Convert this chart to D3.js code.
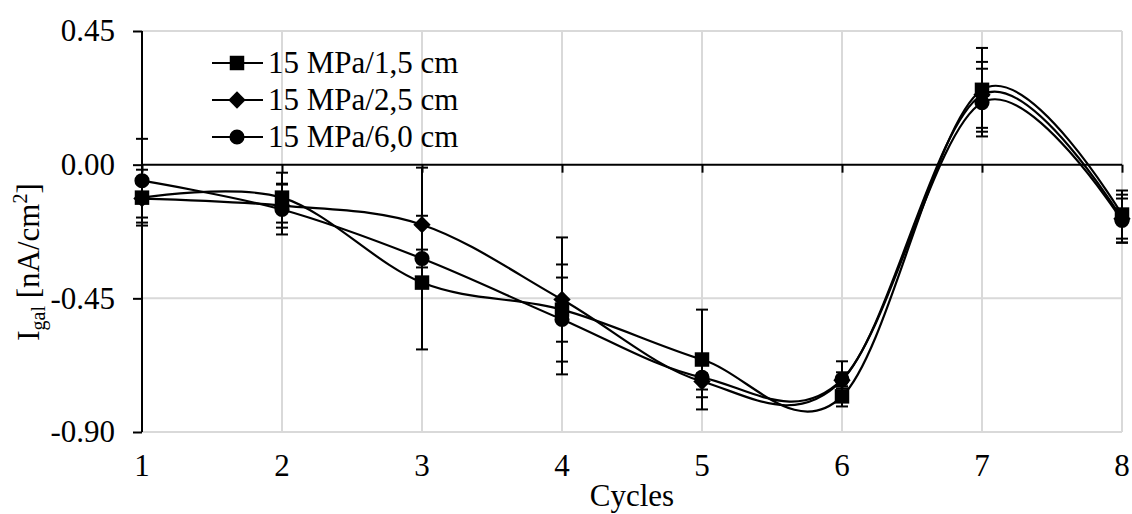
<!DOCTYPE html>
<html>
<head>
<meta charset="utf-8">
<script src="https://cdn.jsdelivr.net/npm/d3@7"></script>
<style>
  body { margin: 0; background: #fff; }
  text { font-family: "Liberation Serif", "Times New Roman", serif; fill: #000; }
</style>
</head>
<body>
<script>
var cycles = [1, 2, 3, 4, 5, 6, 7, 8];
var yTicks = [0.45, 0, -0.45, -0.9];
var seriesNames = ["15 MPa/1,5 cm", "15 MPa/2,5 cm", "15 MPa/6,0 cm"];

var sqVals   = [-0.111, -0.111, -0.397, -0.488, -0.656, -0.780, 0.252, -0.168];
var sqErr    = [0.094, 0.084, 0.225, 0.108, 0.168, 0.034, 0.141, 0.081];
var diaVals  = [-0.114, -0.138, -0.202, -0.454, -0.730, -0.726, 0.235, -0.182];
var diaErr   = [0.064, 0.074, 0.192, 0.209, 0.027, 0.027, 0.111, 0.081];
var circVals = [-0.054, -0.151, -0.316, -0.521, -0.716, -0.723, 0.209, -0.188];
var circErr  = [0.141, 0.084, 0.030, 0.185, 0.067, 0.061, 0.114, 0.074];

var W = 1132, H = 514;
var pLeft = 142, pRight = 1122, pTop = 31, pBottom = 432;
var fs = "31px";

var svg = d3.select("body").append("svg")
    .attr("width", W)
    .attr("height", H);

var x = d3.scaleLinear().domain([1, 8]).range([pLeft, pRight]);
var y = d3.scaleLinear().domain([-0.9, 0.45]).range([pBottom, pTop]);

// gridlines
svg.append("g").selectAll("line")
  .data(yTicks.filter(function(d) { return d !== 0; }))
  .enter().append("line")
  .attr("x1", pLeft).attr("x2", pRight)
  .attr("y1", function(d) { return y(d); })
  .attr("y2", function(d) { return y(d); })
  .attr("stroke", "#d9d9d9").attr("stroke-width", 2);

svg.append("g").selectAll("line")
  .data(cycles.slice(1))
  .enter().append("line")
  .attr("x1", function(d) { return x(d); })
  .attr("x2", function(d) { return x(d); })
  .attr("y1", pTop).attr("y2", pBottom)
  .attr("stroke", "#d9d9d9").attr("stroke-width", 2);

// y axis
var yAxis = d3.axisLeft(y).tickValues(yTicks).tickSize(9).tickPadding(18)
  .tickFormat(function(d) { return d.toFixed(2).replace("\u2212", "-"); });
var gy = svg.append("g")
  .attr("transform", "translate(" + pLeft + ",0)")
  .call(yAxis);
gy.select(".domain").attr("stroke", "#000").attr("stroke-width", 2)
  .attr("d", "M0," + pTop + "V" + pBottom);
gy.selectAll(".tick line").attr("stroke", "#000").attr("stroke-width", 2);
gy.selectAll(".tick text").style("font-size", fs)
  .style("font-family", "Liberation Serif");

// x axis at zero
var xAxis = d3.axisBottom(x).tickValues(cycles).tickSize(8).tickFormat("");
var gx = svg.append("g")
  .attr("transform", "translate(0," + y(0) + ")")
  .call(xAxis);
gx.select(".domain").attr("stroke", "#000").attr("stroke-width", 2)
  .attr("d", "M" + pLeft + ",0H" + pRight);
gx.selectAll(".tick line").attr("stroke", "#000").attr("stroke-width", 2);

// x tick labels at bottom
svg.append("g").selectAll("text")
  .data(cycles)
  .enter().append("text")
  .attr("x", function(d) { return x(d); })
  .attr("y", 476)
  .attr("text-anchor", "middle")
  .style("font-size", fs)
  .text(function(d) { return d; });

svg.append("text")
  .attr("x", (pLeft + pRight) / 2)
  .attr("y", 506)
  .attr("text-anchor", "middle")
  .style("font-size", fs)
  .text("Cycles");

var ylab = svg.append("text")
  .attr("transform", "translate(39,262) rotate(-90)")
  .attr("text-anchor", "middle")
  .style("font-size", fs);
ylab.append("tspan").text("I");
ylab.append("tspan").attr("dy", 6).style("font-size", "20px").text("gal");
ylab.append("tspan").attr("dy", -6).text(" [nA/cm");
ylab.append("tspan").attr("dy", -12).style("font-size", "20px").text("2");
ylab.append("tspan").attr("dy", 12).text("]");

var series = [
  {name: seriesNames[0], vals: sqVals, err: sqErr, shape: d3.symbolSquare, size: 210, rot: 0},
  {name: seriesNames[1], vals: diaVals, err: diaErr, shape: d3.symbolSquare, size: 150, rot: 45},
  {name: seriesNames[2], vals: circVals, err: circErr, shape: d3.symbolCircle, size: 180, rot: 0}
];

var line = d3.line()
  .x(function(d, i) { return x(cycles[i]); })
  .y(function(d) { return y(d); })
  .curve(d3.curveCatmullRom.alpha(0));

// error bars
series.forEach(function(s) {
  var g = svg.append("g");
  s.vals.forEach(function(v, i) {
    var cx = x(cycles[i]);
    var y1 = y(v + s.err[i]), y2 = y(v - s.err[i]);
    g.append("line").attr("x1", cx).attr("x2", cx).attr("y1", y1).attr("y2", y2)
      .attr("stroke", "#000").attr("stroke-width", 2);
    [y1, y2].forEach(function(yy) {
      g.append("line").attr("x1", cx - 6).attr("x2", cx + 6).attr("y1", yy).attr("y2", yy)
        .attr("stroke", "#000").attr("stroke-width", 2);
    });
  });
});

// lines and markers
series.forEach(function(s) {
  svg.append("path")
    .attr("d", line(s.vals))
    .attr("fill", "none")
    .attr("stroke", "#000")
    .attr("stroke-width", 2.2);
  svg.append("g").selectAll("path")
    .data(s.vals)
    .enter().append("path")
    .attr("d", d3.symbol().type(s.shape).size(s.size))
    .attr("transform", function(d, i) {
      return "translate(" + x(cycles[i]) + "," + y(d) + ") rotate(" + s.rot + ")";
    })
    .attr("fill", "#000");
});

// legend
var leg = svg.append("g");
series.forEach(function(s, i) {
  var ly = 63 + i * 37;
  leg.append("line").attr("x1", 212).attr("x2", 263).attr("y1", ly).attr("y2", ly)
    .attr("stroke", "#000").attr("stroke-width", 2.2);
  leg.append("path").attr("d", d3.symbol().type(s.shape).size(s.size))
    .attr("transform", "translate(237," + ly + ") rotate(" + s.rot + ")").attr("fill", "#000");
  leg.append("text").attr("x", 268).attr("y", ly + 10)
    .style("font-size", fs).text(s.name);
});
</script>
</body>
</html>
